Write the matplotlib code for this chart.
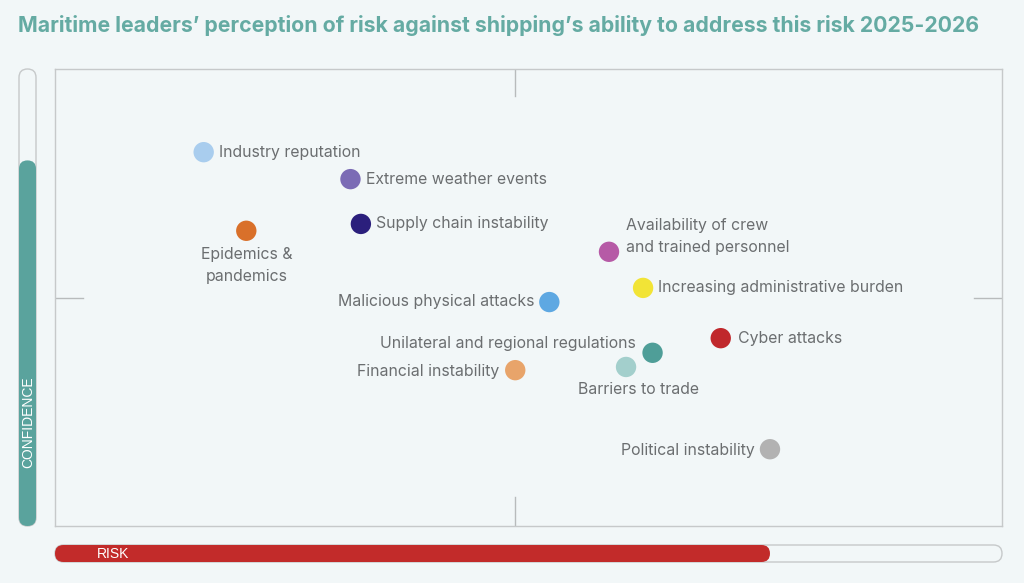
import matplotlib
matplotlib.use("Agg")
import matplotlib.pyplot as plt
from matplotlib.patches import FancyBboxPatch

plt.rcParams['font.family'] = ['Inter', 'DejaVu Sans']

# ---- data ----
labels = ["Industry reputation", "Extreme weather events", "Supply chain instability",
          "Epidemics &\npandemics", "Availability of crew\nand trained personnel",
          "Increasing administrative burden", "Malicious physical attacks",
          "Cyber attacks", "Unilateral and regional regulations", "Barriers to trade",
          "Financial instability", "Political instability"]
risk = [15.7, 31.2, 32.3, 20.2, 58.5, 62.1, 52.2, 70.3, 63.1, 60.3, 48.6, 75.5]
confidence = [81.8, 75.9, 66.1, 64.6, 60.0, 52.1, 49.0, 41.1, 37.9, 34.8, 34.1, 16.8]
colors = ["#a9cdee", "#7b6bb5", "#2b1f7c", "#d9702a", "#b65aa6", "#f2e436",
          "#5ea8e2", "#c0282c", "#4f9e98", "#a3cfcc", "#e8a46a", "#b2b2b2"]
confidence_level = 80.0
risk_level = 75.5
risk_mid = 48.6
confidence_mid = 49.9
title = "Maritime leaders\u2019 perception of risk against shipping\u2019s ability to address this risk 2025-2026"

# label placement: (dx px, dy px, ha, va)
label_pos = [
    (15, 0, "left", "center"),
    (16, 0, "left", "center"),
    (15, 0, "left", "center"),
    (0, -16, "center", "top"),
    (17, 15, "left", "center"),
    (15, 0, "left", "center"),
    (-15, 1, "right", "center"),
    (17, 0, "left", "center"),
    (-17, 9, "right", "center"),
    (12, -23, "center", "center"),
    (-16, -1, "right", "center"),
    (-15, -1, "right", "center"),
]

BG = "#f2f7f8"
W, H = 1024, 583
fig = plt.figure(figsize=(W / 100, H / 100), dpi=100, facecolor=BG)

def fx(px):
    return px / W
def fy(py):
    return 1 - py / H

# main axes: x 55..1002, y 69..526
ax = fig.add_axes([fx(55), fy(526), (1002 - 55) / W, (526 - 69) / H])
ax.set_facecolor(BG)
ax.set_xlim(0, 100)
ax.set_ylim(0, 100)
ax.set_xticks([])
ax.set_yticks([])
for s in ax.spines.values():
    s.set_color("#c6c9ca")
    s.set_linewidth(1.0)

# quadrant tick marks
tc = "#b8bbbc"
ax.plot([risk_mid, risk_mid], [100, 94], color=tc, lw=1.0)
ax.plot([risk_mid, risk_mid], [0, 6.3], color=tc, lw=1.0)
ax.plot([0, 3], [confidence_mid, confidence_mid], color=tc, lw=1.0)
ax.plot([97, 100], [confidence_mid, confidence_mid], color=tc, lw=1.0)

ax.scatter(risk, confidence, s=215, c=colors, edgecolors="none", zorder=3)

for xv, yv, lab, (dx, dy, ha, va) in zip(risk, confidence, labels, label_pos):
    ax.annotate(lab, (xv, yv), xytext=(dx * 0.72, dy * 0.72), textcoords="offset points",
                ha=ha, va=va, fontsize=11.4, color="#6b6e70", linespacing=1.6)

# title
fig.text(fx(18), fy(25), title, ha="left", va="center", fontsize=15.3,
         fontweight="bold", color="#65aba3")

T = fig.dpi_scale_trans

def pill(x0, y0, x1, y1, **kw):
    # pixel coords (top-left origin) -> inches
    w = (x1 - x0) / 100
    h = (y1 - y0) / 100
    r = min(w, h) / 2
    p = FancyBboxPatch((x0 / 100, (H - y1) / 100), w, h,
                       boxstyle=f"round,pad=0,rounding_size={r}", transform=T, **kw)
    fig.add_artist(p)

# confidence bar
cx0, cx1, cy0, cy1 = 19, 36, 69, 526
pill(cx0, cy0, cx1, cy1, facecolor=BG, edgecolor="#c6c9ca", lw=1.0)
fill_top = cy1 - (cy1 - cy0) * confidence_level / 100
pill(cx0, fill_top, cx1, cy1, facecolor="#5aa39d", edgecolor="none")
fig.text(fx(28), fy(422), "CONFIDENCE", rotation=90, ha="center", va="center",
         fontsize=10, color="white", family=["Liberation Sans", "DejaVu Sans"])

# risk bar
rx0, rx1, ry0, ry1 = 55, 1002, 545, 562
pill(rx0, ry0, rx1, ry1, facecolor=BG, edgecolor="#c6c9ca", lw=1.0)
fill_right = rx0 + (rx1 - rx0) * risk_level / 100
pill(rx0, ry0, fill_right, ry1, facecolor="#c22b2a", edgecolor="none")
fig.text(fx(97), fy(553.5), "RISK", ha="left", va="center", fontsize=10, color="white",
         family=["Liberation Sans", "DejaVu Sans"])

fig.savefig("out.png", dpi=100, facecolor=BG)
